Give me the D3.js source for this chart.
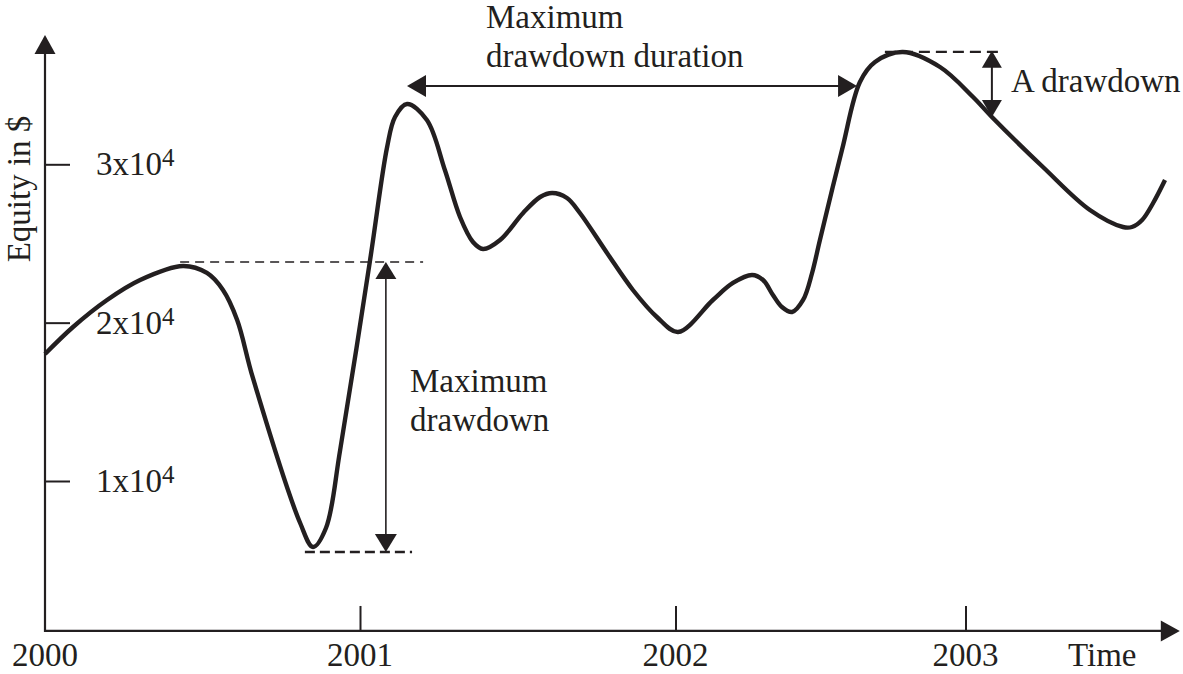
<!DOCTYPE html>
<html><head><meta charset="utf-8">
<script src="https://cdn.jsdelivr.net/npm/d3@7"></script>
<style>
body{margin:0;background:#fff}
svg{display:block}
text{font-family:"Liberation Serif","Times New Roman",Times,serif;fill:#231f20;font-size:33px}
</style>
</head><body>
<svg id="c" width="1183" height="674"></svg>
<script>
// ---- data (years as fractional years, equity in $) ----
const years = [2000.000,2000.089,2000.197,2000.302,2000.438,2000.514,2000.565,2000.610,2000.660,2000.810,2000.851,2000.892,2000.937,2001.032,2001.086,2001.111,2001.149,2001.212,2001.269,2001.317,2001.358,2001.390,2001.444,2001.517,2001.571,2001.609,2001.656,2001.697,2001.783,2001.865,2001.941,2002.009,2002.129,2002.198,2002.264,2002.302,2002.336,2002.367,2002.402,2002.440,2002.471,2002.498,2002.574,2002.636,2002.688,2002.784,2002.912,2003.026,2003.091,2003.267,2003.429,2003.543,2003.574,2003.609,2003.647,2003.688];
const equity = [18020,19726,21431,22694,23578,23136,22062,20168,16505,7348,5832,7032,11958,23957,31093,32988,33808,32798,29641,26672,25094,24651,25220,26925,27935,28188,27872,26925,24399,22062,20357,19410,21431,22504,23009,22694,21746,20989,20673,21431,23136,25220,30903,35198,36461,37093,36145,34250,32988,29830,27114,26041,26041,26483,27556,29009];
const tickYears = [2000, 2001, 2002, 2003];
const tickYearLabels = ["2000", "2001", "2002", "2003"];
const yTicks = [10000, 20000, 30000];
const yTickMantissa = ["1x10", "2x10", "3x10"];
const yTickExponent = "4";
const axisLabelY = "Equity in $";
const axisLabelX = "Time";
// annotation values
const maxDD = {peak: 23830, trough: 5520, x: 2001.082, peakFrom: 2000.429, peakTo: 2001.200, troughFrom: 2000.825, troughTo: 2001.165};
const maxDDLabel = ["Maximum", "drawdown"];
const duration = {from: 2001.149, to: 2002.626, level: 34950};
const durationLabel = ["Maximum", "drawdown duration"];
const aDD = {peak: 37100, bottom: 32988, x: 2003.091, from: 2002.722, to: 2003.119};
const aDDLabel = "A drawdown";
const xAxisLevel = 530, yAxisTop = 38170, xAxisEnd = 2003.739;

// ---- scales ----
const x = d3.scaleLinear().domain([2000, 2001, 2002, 2003]).range([45, 360, 675.5, 965.5]);
const y = d3.scaleLinear().domain([10000, 30000]).range([481, 164.3]);
const ink = "#231f20";
const svg = d3.select("#c");

function tri(tipX, tipY, dir, len, half) {
  const p = d3.path();
  if (dir === "up") { p.moveTo(tipX, tipY); p.lineTo(tipX - half, tipY + len); p.lineTo(tipX + half, tipY + len); }
  if (dir === "down") { p.moveTo(tipX, tipY); p.lineTo(tipX - half, tipY - len); p.lineTo(tipX + half, tipY - len); }
  if (dir === "left") { p.moveTo(tipX, tipY); p.lineTo(tipX + len, tipY - half); p.lineTo(tipX + len, tipY + half); }
  if (dir === "right") { p.moveTo(tipX, tipY); p.lineTo(tipX - len, tipY - half); p.lineTo(tipX - len, tipY + half); }
  p.closePath();
  svg.append("path").attr("d", p.toString()).attr("fill", ink);
}

// ---- axes ----
const x0 = x(2000), yBase = y(xAxisLevel);
svg.append("line").attr("x1", x0).attr("x2", x(xAxisEnd) - 12).attr("y1", yBase).attr("y2", yBase)
  .attr("stroke", ink).attr("stroke-width", 2.2);
tri(x(xAxisEnd), yBase, "right", 19, 10.5);
svg.append("line").attr("x1", x0).attr("x2", x0).attr("y1", yBase + 1).attr("y2", y(yAxisTop) + 12)
  .attr("stroke", ink).attr("stroke-width", 2.2);
tri(x0, y(yAxisTop), "up", 19, 10.5);

const gx = svg.append("g").attr("transform", `translate(0,${yBase})`)
  .call(d3.axisBottom(x).tickValues(tickYears.slice(1)).tickSize(-25).tickFormat(""));
gx.select(".domain").remove();
gx.selectAll("line").attr("stroke", ink).attr("stroke-width", 2);
const gy = svg.append("g").attr("transform", `translate(${x0},0)`)
  .call(d3.axisLeft(y).tickValues(yTicks).tickSize(-25).tickFormat(""));
gy.select(".domain").remove();
gy.selectAll("line").attr("stroke", ink).attr("stroke-width", 2);

svg.selectAll("text.xl").data(tickYears).join("text").attr("class", "xl")
  .attr("x", d => x(d)).attr("y", 666).attr("text-anchor", "middle")
  .text((d, i) => tickYearLabels[i]);
const yl = svg.selectAll("text.yl").data(yTicks).join("text").attr("class", "yl")
  .attr("x", 96).attr("y", d => y(d) + 11);
yl.append("tspan").text((d, i) => yTickMantissa[i]);
yl.append("tspan").attr("dy", -9).attr("font-size", "25px").text(yTickExponent);

svg.append("text").attr("x", 1068).attr("y", 666).text(axisLabelX);
svg.append("text").attr("transform", "translate(30,189) rotate(-90)").attr("text-anchor", "middle").text(axisLabelY);

// ---- equity curve ----
const pts = years.map((t, i) => [t, equity[i]]);
svg.append("path").datum(pts)
  .attr("d", d3.line().x(d => x(d[0])).y(d => y(d[1])).curve(d3.curveCatmullRom.alpha(0.5)))
  .attr("fill", "none").attr("stroke", ink).attr("stroke-width", 4.4).attr("stroke-linejoin", "round");

// ---- maximum drawdown annotation ----
svg.append("line").attr("x1", x(maxDD.peakFrom)).attr("x2", x(maxDD.peakTo)).attr("y1", y(maxDD.peak)).attr("y2", y(maxDD.peak))
  .attr("stroke", ink).attr("stroke-width", 1.6).attr("stroke-dasharray", "9,6");
svg.append("line").attr("x1", x(maxDD.troughFrom)).attr("x2", x(maxDD.troughTo)).attr("y1", y(maxDD.trough)).attr("y2", y(maxDD.trough))
  .attr("stroke", ink).attr("stroke-width", 2.6).attr("stroke-dasharray", "10,5");
svg.append("line").attr("x1", x(maxDD.x)).attr("x2", x(maxDD.x)).attr("y1", y(maxDD.peak) + 15).attr("y2", y(maxDD.trough) - 15)
  .attr("stroke", ink).attr("stroke-width", 1.6);
tri(x(maxDD.x), y(maxDD.peak), "up", 17, 10.5);
tri(x(maxDD.x), y(maxDD.trough), "down", 18, 11);
svg.append("text").attr("x", 410).attr("y", 392).text(maxDDLabel[0]);
svg.append("text").attr("x", 410).attr("y", 431).text(maxDDLabel[1]);

// ---- maximum drawdown duration annotation ----
const dY = y(duration.level);
svg.append("line").attr("x1", x(duration.from) + 12).attr("x2", x(duration.to) - 12).attr("y1", dY).attr("y2", dY)
  .attr("stroke", ink).attr("stroke-width", 2);
tri(x(duration.from), dY, "left", 19, 11);
tri(x(duration.to), dY, "right", 19, 11);
svg.append("text").attr("x", 486).attr("y", 28).text(durationLabel[0]);
svg.append("text").attr("x", 486).attr("y", 67).text(durationLabel[1]);

// ---- a drawdown annotation ----
svg.append("line").attr("x1", x(aDD.from)).attr("x2", x(aDD.to)).attr("y1", y(aDD.peak)).attr("y2", y(aDD.peak))
  .attr("stroke", ink).attr("stroke-width", 2.4).attr("stroke-dasharray", "11,6");
svg.append("line").attr("x1", x(aDD.x)).attr("x2", x(aDD.x)).attr("y1", y(aDD.peak) + 12).attr("y2", y(aDD.bottom) - 12)
  .attr("stroke", ink).attr("stroke-width", 2);
tri(x(aDD.x), y(aDD.peak) - 1, "up", 17, 10);
tri(x(aDD.x), y(aDD.bottom), "down", 17, 10);
svg.append("text").attr("x", 1011).attr("y", 92).text(aDDLabel);
</script>
</body></html>
